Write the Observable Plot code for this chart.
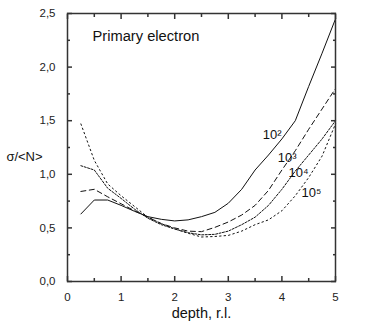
<!DOCTYPE html>
<html>
<head>
<meta charset="utf-8">
<script src="https://cdn.jsdelivr.net/npm/d3@7"></script>
<script src="https://cdn.jsdelivr.net/npm/@observablehq/plot@0.6"></script>
<style>
  html, body { margin: 0; padding: 0; background: #fff; }
  svg { display: block; }
</style>
</head>
<body>
<div id="chart"></div>
<script>
const depth = [0.25,0.5,0.75,1.0,1.25,1.5,1.75,2.0,2.25,2.5,2.75,3.0,3.25,3.5,3.75,4.0,4.25,4.5,4.75,5.0];
const s1e2 = [0.63,0.76,0.76,0.71,0.655,0.605,0.58,0.565,0.575,0.605,0.645,0.73,0.86,1.04,1.18,1.33,1.50,1.82,2.13,2.45];
const s1e3 = [0.84,0.86,0.79,0.725,0.66,0.60,0.54,0.50,0.47,0.465,0.505,0.555,0.62,0.71,0.85,1.04,1.22,1.42,1.61,1.80];
const s1e4 = [1.08,1.04,0.87,0.775,0.675,0.59,0.53,0.49,0.455,0.435,0.44,0.47,0.53,0.60,0.71,0.86,1.03,1.18,1.33,1.50];
const s1e5 = [1.47,1.13,0.91,0.80,0.70,0.60,0.54,0.49,0.45,0.415,0.42,0.43,0.47,0.53,0.575,0.66,0.80,0.97,1.17,1.47];

const seriesNames = ["10²","10³","10⁴","10⁵"];
const seriesValues = [s1e2, s1e3, s1e4, s1e5];
const seriesDash = [null, "5,3.5", "2,1.5", "1.5,3"];

const labelX = [3.82, 4.10, 4.31, 4.55];
const labelY = [1.37, 1.157, 1.017, 0.83];

const xTicks = [0,1,2,3,4,5];
const xMinor = [0.5,1.5,2.5,3.5,4.5];
const yTicks = [0,0.5,1.0,1.5,2.0,2.5];
const yMinor = [0.25,0.75,1.25,1.75,2.25];

const title = "Primary electron";
const xLabel = "depth, r.l.";
const yLabel = "σ/<N>";

const lines = seriesValues.map((vals, i) =>
  Plot.line(depth.map((d, j) => ({x: d, y: vals[j]})), {
    x: "x", y: "y", stroke: "#111", strokeWidth: 1,
    strokeDasharray: seriesDash[i]
  })
);

const labels = seriesNames.map((n, i) => ({x: labelX[i], y: labelY[i], t: n}));

const axisColor = "#333";
const chart = Plot.plot({
  width: 380,
  height: 332,
  marginLeft: 67,
  marginRight: 45,
  marginTop: 13,
  marginBottom: 51,
  style: {fontFamily: "'Liberation Sans', Arial, sans-serif", fontSize: "11.5px", color: "#222", background: "#fff"},
  x: {domain: [0, 5]},
  y: {domain: [0, 2.5]},
  marks: [
    ...lines,
    Plot.text(labels, {x: "x", y: "y", text: "t", fontSize: 13, fill: "#111"}),
    Plot.text([title], {frameAnchor: "top-left", dx: 25, dy: 17, textAnchor: "start", fontSize: 14.7, fill: "#111"}),
    Plot.axisX({ticks: xTicks, tickSize: -5, tickPadding: 16, tickFormat: d => String(d), label: null, stroke: axisColor, strokeWidth: 1.5}),
    Plot.axisX({ticks: xMinor, tickSize: -3, text: null, label: null, stroke: axisColor, strokeWidth: 1.5}),
    Plot.axisX({anchor: "top", ticks: xTicks, tickSize: -5, text: null, label: null, stroke: axisColor, strokeWidth: 1.5}),
    Plot.axisX({anchor: "top", ticks: xMinor, tickSize: -3, text: null, label: null, stroke: axisColor, strokeWidth: 1.5}),
    Plot.axisY({ticks: yTicks, tickSize: -5, tickPadding: 17, tickFormat: d => d.toFixed(1).replace(".", ","), label: null, stroke: axisColor, strokeWidth: 1.5}),
    Plot.axisY({ticks: yMinor, tickSize: -3, text: null, label: null, stroke: axisColor, strokeWidth: 1.5}),
    Plot.axisY({anchor: "right", ticks: yTicks, tickSize: -5, text: null, label: null, stroke: axisColor, strokeWidth: 1.5}),
    Plot.axisY({anchor: "right", ticks: yMinor, tickSize: -3, text: null, label: null, stroke: axisColor, strokeWidth: 1.5}),
    Plot.frame({stroke: axisColor, strokeWidth: 1.5}),
    Plot.text([xLabel], {frameAnchor: "bottom", dy: 36, fontSize: 14.5, fill: "#111"}),
    Plot.text([{y: 1.166, t: yLabel}], {y: "y", text: "t", frameAnchor: "left", dx: -43, textAnchor: "middle", fontSize: 13, fill: "#111"})
  ]
});
document.getElementById("chart").appendChild(chart);
</script>
</body>
</html>
